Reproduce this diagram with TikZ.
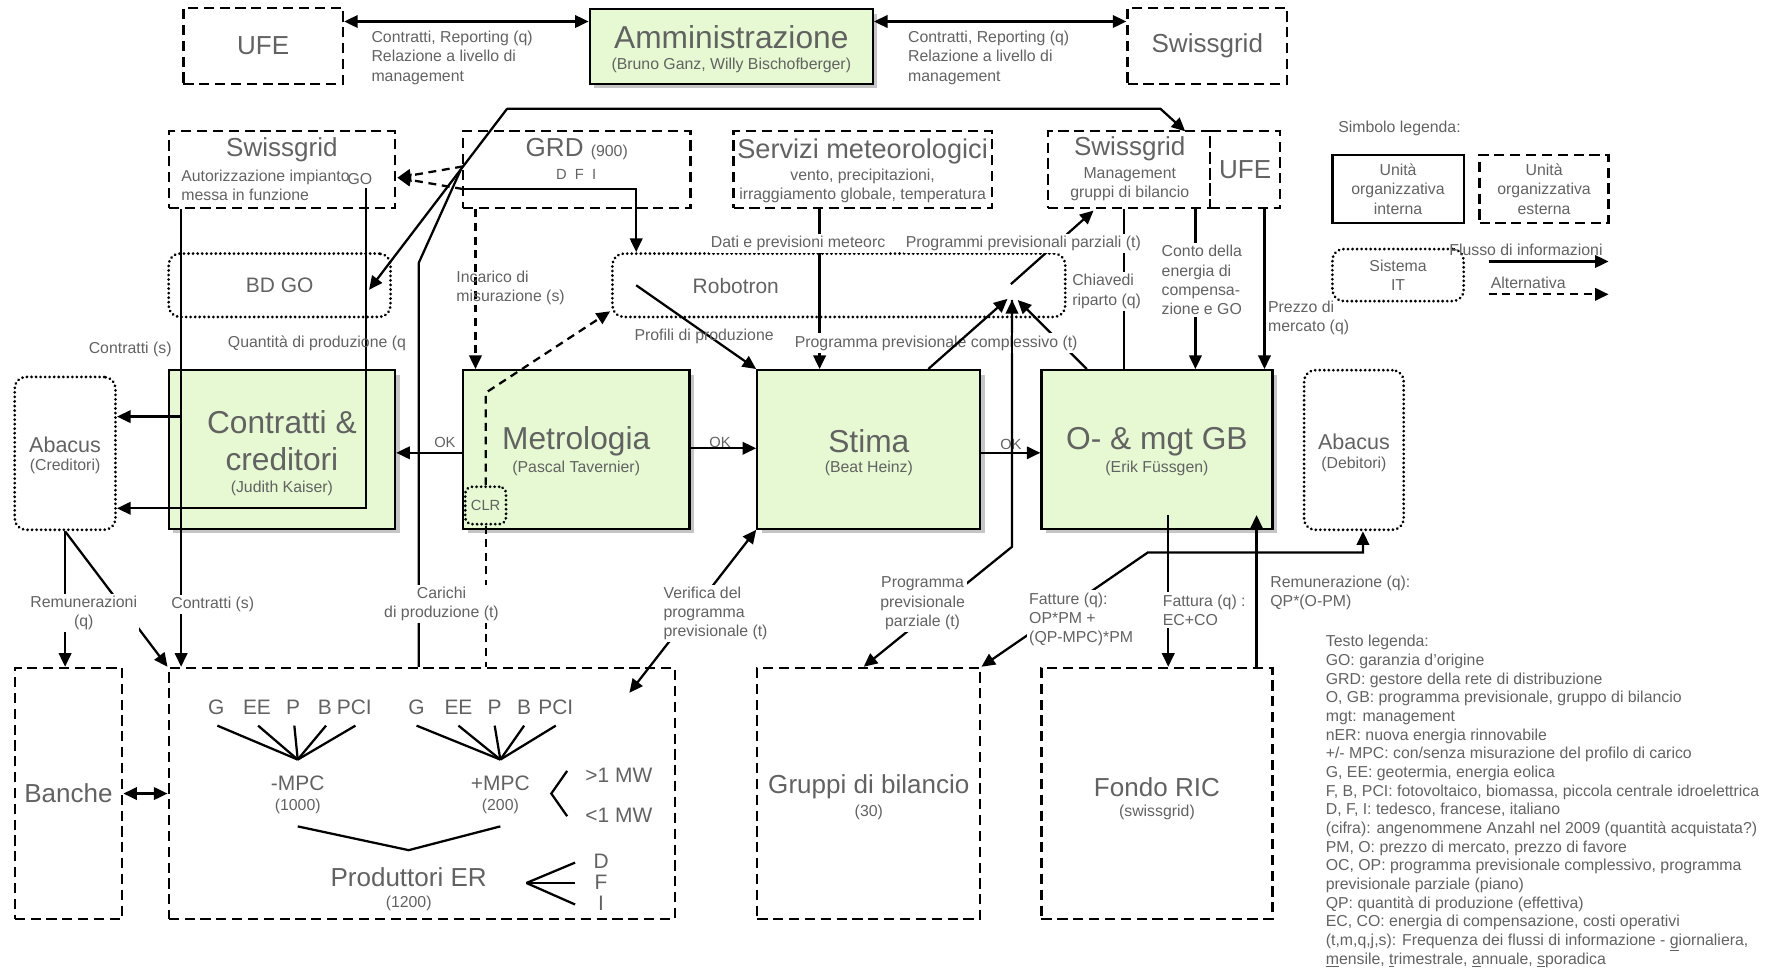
\documentclass[tikz,border=0pt]{standalone}
\usepackage{fontspec}
\setmainfont{Liberation Sans}
\usetikzlibrary{arrows.meta,shadows}

\definecolor{boxgreen}{RGB}{231,249,210}
\definecolor{txtgray}{RGB}{98,98,98}

\newcommand{\titletxt}{\fontsize{28}{33}\selectfont}
\newcommand{\medtxt}{\fontsize{23}{27}\selectfont}
\newcommand{\ittxt}{\fontsize{18.5}{22}\selectfont}
\newcommand{\lbltxt}{\fontsize{14}{17}\selectfont}
\newcommand{\legtxt}{\fontsize{14}{16.5}\selectfont}

\tikzset{
  intbox/.style={draw, line width=2pt, fill=boxgreen, inner sep=0pt,
    drop shadow={fill=black!45, opacity=.5, shadow xshift=4pt, shadow yshift=-4pt}},
  extbox/.style={draw, line width=2pt, dash pattern=on 9pt off 5pt, inner sep=0pt},
  itbox/.style={draw, line width=2.7pt, dash pattern=on 0.01pt off 4pt, line cap=round,
    rounded corners=10pt, inner sep=0pt},
  txt/.style={text=txtgray, inner sep=1pt},
  lbl/.style={txt, font=\lbltxt, align=left},
  cut/.style={lbl, fill=white, inner sep=2pt},
  flow/.style={line width=2pt},
  alt/.style={line width=2pt, dash pattern=on 7pt off 5pt},
}

\begin{document}
\begin{tikzpicture}[x=1pt, y=-1pt, >={Triangle[length=12pt,width=11pt]}]
\useasboundingbox (0,0) rectangle (1568,855);

% top row
\node[extbox, txt, font=\medtxt, minimum width=141pt, minimum height=67pt] (ufeT) at (232.5,40.5) {UFE};
\node[intbox, minimum width=250pt, minimum height=66pt] (amm) at (646,41) {};
\node[txt, font=\titletxt] (ammT) at (646,33) {Amministrazione};
\node[txt, font=\lbltxt] (ammS) at (646,58) {(Bruno Ganz, Willy Bischofberger)};
\node[extbox, txt, font=\medtxt, minimum width=141pt, minimum height=67pt] (sgT) at (1066.5,40.5) {Swissgrid};

% second row
\node[extbox, minimum width=200pt, minimum height=68pt] (sgL) at (249,150) {};
\node[txt, font=\medtxt] (sgLT) at (249,132) {Swissgrid};
\node[lbl, anchor=west] (sgLS) at (159,163.5) {Autorizzazione impianto\\messa in funzione};
\node[lbl] (goT) at (318,158) {GO};
\node[extbox, minimum width=201pt, minimum height=68pt] (grd) at (509.5,150) {};
\node[txt] (grdT) at (509.5,132) {\medtxt GRD \lbltxt(900)};
\node[txt, font=\fontsize{13}{15}\selectfont] (grdS) at (509,154) {D\ \ F\ \ I};
\node[extbox, minimum width=228pt, minimum height=68pt] (meteo) at (762,150) {};
\node[txt, font=\fontsize{24}{28}\selectfont] (meteoT) at (762,134) {Servizi meteorologici};
\node[lbl, align=center] (meteoS) at (762,164) {vento, precipitazioni,\\irraggiamento globale, temperatura};
\node[extbox, minimum width=143pt, minimum height=68pt] (sgM) at (997.5,150) {};
\node[txt, font=\medtxt] (sgMT) at (998,131) {Swissgrid};
\node[lbl, align=center] (sgMS) at (998,162.5) {Management\\gruppi di bilancio};
\node[extbox, txt, font=\medtxt, minimum width=62pt, minimum height=68pt] (ufeM) at (1100,150) {UFE};

% legend symbols
\node[txt, font=\lbltxt, anchor=west] (legH) at (1181,113) {Simbolo legenda:};
\node[draw, line width=2pt, lbl, align=center, minimum width=116pt, minimum height=60pt] (legInt) at (1235,167) {Unità\\organizzativa\\interna};
\node[extbox, lbl, align=center, minimum width=114pt, minimum height=60pt] (legExt) at (1364,167) {Unità\\organizzativa\\esterna};
\node[itbox, lbl, align=center, minimum width=116pt, minimum height=46pt] (legIT) at (1235,243) {Sistema\\IT};
\coordinate (lf1) at (1315,231);
\coordinate (lf2) at (1421,231);
\coordinate (la1) at (1315,260);
\coordinate (la2) at (1421,260);
\draw[flow,->] (lf1) -- (lf2);
\draw[alt,->] (la1) -- (la2);
\node[lbl] (legF) at (1348,221) {Flusso di informazioni};
\node[lbl] (legA) at (1350,250) {Alternativa};

% IT systems
\node[itbox, txt, font=\ittxt, minimum width=196pt, minimum height=56pt] (bdgo) at (247,252) {BD GO};
\node[itbox, minimum width=400pt, minimum height=56pt] (robo) at (741,252) {};
\node[txt, font=\ittxt] (roboT) at (650,253) {Robotron};

% internal units
\node[intbox, minimum width=200pt, minimum height=140pt] (cc) at (249,397) {};
\node[txt, font=\titletxt, align=center] (ccT) at (249,389.5) {Contratti \&\\creditori};
\node[txt, font=\lbltxt] (ccS) at (249,431) {(Judith Kaiser)};
\node[intbox, minimum width=200pt, minimum height=140pt] (metro) at (509,397) {};
\node[txt, font=\titletxt] (metroT) at (509,390) {Metrologia};
\node[txt, font=\lbltxt] (metroS) at (509,414) {(Pascal Tavernier)};
\node[intbox, minimum width=197pt, minimum height=140pt] (stima) at (767.5,397) {};
\node[txt, font=\titletxt] (stimaT) at (767.5,390) {Stima};
\node[txt, font=\lbltxt] (stimaS) at (767.5,414) {(Beat Heinz)};
\node[intbox, minimum width=204pt, minimum height=140pt] (ogb) at (1022,397) {};
\node[txt, font=\titletxt] (ogbT) at (1022,390) {O- \& mgt GB};
\node[txt, font=\lbltxt] (ogbS) at (1022,414) {(Erik Füssgen)};
\node[itbox, minimum width=89pt, minimum height=135pt] (abC) at (57.5,400.5) {};
\node[txt, font=\fontsize{19}{22}\selectfont] (abCT) at (57.5,393) {Abacus};
\node[txt, font=\lbltxt] (abCS) at (57.5,412) {(Creditori)};
\node[itbox, minimum width=88pt, minimum height=141pt] (abD) at (1196,397.5) {};
\node[txt, font=\fontsize{19}{22}\selectfont] (abDT) at (1196,390) {Abacus};
\node[txt, font=\lbltxt] (abDS) at (1196,410) {(Debitori)};
\node[itbox, rounded corners=6pt, txt, font=\fontsize{13}{15}\selectfont, minimum width=36pt, minimum height=33pt] (clr) at (429,446.5) {CLR};

% external units, bottom
\node[extbox, txt, font=\medtxt, minimum width=95pt, minimum height=222pt] (banche) at (60.5,701) {Banche};
\node[extbox, minimum width=447pt, minimum height=222pt] (prod) at (372.5,701) {};
\node[extbox, minimum width=197pt, minimum height=222pt] (gruppi) at (767.5,701) {};
\node[txt, font=\medtxt] (gruppiT) at (767.5,695) {Gruppi di bilancio};
\node[txt, font=\lbltxt] (gruppiS) at (767.5,718) {(30)};
\node[extbox, minimum width=204pt, minimum height=222pt] (fondo) at (1022,701) {};
\node[txt, font=\medtxt] (fondoT) at (1022,695) {Fondo RIC};
\node[txt, font=\lbltxt] (fondoS) at (1022,718) {(swissgrid)};

% producers
\coordinate (apL) at (263,671);
\coordinate (apR) at (442,671);
\foreach \x/\t in {191/G,227/EE,259/P,287/B,313/PCI}{
  \node[txt, font=\ittxt] (srcL\x) at (\x,625) {\t};
  \draw[flow] (\x+1,641) -- (apL);
}
\foreach \x/\t in {368/G,405/EE,437/P,463/B,491/PCI}{
  \node[txt, font=\ittxt] (srcR\x) at (\x,625) {\t};
  \draw[flow] (\x,641) -- (apR);
}
\node[txt, font=\ittxt] (mpcL) at (263,692) {-MPC};
\node[txt, font=\lbltxt] (mpcLn) at (263,712) {(1000)};
\node[txt, font=\ittxt] (mpcR) at (442,692) {+MPC};
\node[txt, font=\lbltxt] (mpcRn) at (442,712) {(200)};
\draw[flow] (501,681) -- (487,701) -- (501,721);
\node[txt, font=\ittxt, anchor=west] (mwA) at (516,685) {>1 MW};
\node[txt, font=\ittxt, anchor=west] (mwB) at (516,720) {<1 MW};
\draw[flow] (263,730) -- (361,751) -- (442,730);
\node[txt, font=\medtxt] (prodT) at (361,775) {Produttori ER};
\node[txt, font=\lbltxt] (prodS) at (361,798) {(1200)};
\coordinate (apD) at (465,780);
\foreach \y/\t in {762/D,780/F,799/I}{
  \draw[flow] (apD) -- (508,\y);
  \node[txt, font=\ittxt] (lang\t) at (531,\y-1) {\t};
}

% connectors, top
\coordinate (r1) at (0,19);
\draw[flow,<->] (ufeT.east |- r1) -- (amm.west |- r1);
\draw[flow,<->] (amm.east |- r1) -- (sgT.west |- r1);
\node[lbl, anchor=west] (lUA) at (327,51) {Contratti, Reporting (q)\\Relazione a livello di\\management};
\node[lbl, anchor=west] (lAS) at (801,51) {Contratti, Reporting (q)\\Relazione a livello di\\management};

\coordinate (k1) at (448,96);
\coordinate (k2) at (1025,96);
\coordinate (k4) at (1047,116);
\coordinate (k5) at (326,256);
\coordinate (kj) at (407,150);
\coordinate (k3) at (370,232);
\draw[flow,->] (k1) -- (k2) -- (k4);
\draw[flow,->] (k1) -- (k5);
\draw[flow] (kj) -- (k3) -- (k3 |- prod.north);

\coordinate (g1) at (409,147);
\coordinate (g2) at (409,167);
\coordinate (goTip) at (351,157);
\coordinate (g3) at (562,167);
\draw[alt,->] (g1) -- (goTip);
\draw[alt,->] (g2) -- (goTip);
\draw[flow,->] (g2) -- (g3) -- (g3 |- robo.north);
\coordinate (xi) at (420,0);
\draw[alt,->] (grd.south -| xi) -- (metro.north -| xi);

\coordinate (c1) at (429,347);
\coordinate (c2) at (539,275);
\draw[alt,->] (clr.north) -- (c1) -- (c2);
\draw[alt] (clr.south) -- (clr.south |- prod.north);

\coordinate (xa) at (160,0);
\coordinate (b1) at (160,368);
\draw[flow,->] (sgL.south -| xa) -- (prod.north -| xa);
\draw[flow,->] (b1) -- (abC.east |- b1);
\coordinate (go1) at (323,166);
\coordinate (go2) at (323,449);
\draw[flow,->] (go1) -- (go2) -- (abC.east |- go2);

% main chain
\coordinate (r4a) at (0,400);
\coordinate (r4b) at (0,396);
\draw[flow,->] (metro.west |- r4a) -- (cc.east |- r4a);
\draw[flow,->] (metro.east |- r4b) -- (stima.west |- r4b);
\draw[flow,->] (stima.east |- r4a) -- (ogb.west |- r4a);
\node[txt, font=\fontsize{13}{15}\selectfont] (ok1) at (393,391) {OK};
\node[txt, font=\fontsize{13}{15}\selectfont] (ok2) at (636,391) {OK};
\node[txt, font=\fontsize{13}{15}\selectfont] (ok3) at (893,393) {OK};

% forecasts
\coordinate (p1) at (562,252);
\draw[flow,->] (p1) -- (stima.north west);
\coordinate (xm) at (724,0);
\draw[flow,->] (meteo.south -| xm) -- (stima.north -| xm);
\coordinate (o1) at (960,0);
\coordinate (jn) at (899,265);
\draw[flow,->] (ogb.north -| o1) -- (jn);
\coordinate (x1) at (993,0);
\draw[flow] (sgM.south -| x1) -- (ogb.north -| x1);
\coordinate (x2) at (1056,0);
\draw[flow,->] (sgM.south -| x2) -- (ogb.north -| x2);
\coordinate (x3) at (1117,0);
\draw[flow,->] (ufeM.south -| x3) -- (ogb.north -| x3);
\coordinate (j4) at (893,251);
\coordinate (j5) at (966,186);
\draw[flow,->] (j4) -- (j5);
\coordinate (jv) at (894,265);
\coordinate (j2) at (894,483);
\coordinate (j3) at (763,0);
\draw[flow,->] (jv) -- (j2) -- (gruppi.north -| j3);

% billing
\coordinate (f1) at (1032,455);
\coordinate (f2) at (1110,455);
\coordinate (f3) at (1014,488);
\coordinate (f4) at (1204,488);
\draw[flow,->] (f1) -- (fondo.north -| f1);
\draw[flow,->] (fondo.north -| f2) -- (f2);
\draw[flow,<->] (gruppi.north east) -- (f3) -- (f4) -- (abD.south -| f4);
\coordinate (v1) at (556,612);
\draw[flow,<->] (v1) -- (stima.south west);
\draw[flow,->] (abC.south) -- (abC.south |- banche.north);
\draw[flow,->] (abC.south) -- (prod.north west);
\draw[flow,<->] (banche.east) -- (prod.west);

% labels
\node[lbl, anchor=west] (lInc) at (402,254.5) {Incarico di\\misurazione (s)};
\node[cut] (lMet) at (705,215) {Dati e previsioni meteorc};
\node[cut] (lPpp) at (904,215) {Programmi previsionali parziali (t)};
\node[cut, anchor=west] (lChi) at (945,257.5) {Chiavedi\\riparto (q)};
\node[cut, anchor=west] (lConto) at (1024,247.5) {Conto della\\energia di\\compensa-\\zione e GO};
\node[lbl, anchor=west] (lPrezzo) at (1119,280.5) {Prezzo di\\mercato (q)};
\node[lbl] (lCtr) at (115,309) {Contratti (s)};
\node[lbl] (lQta) at (280,303) {Quantità di produzione (q};
\node[lbl] (lProf) at (622,297) {Profili di produzione};
\node[cut] (lPpc) at (827,303) {Programma previsionale complessivo (t)};
\node[cut, align=center] (lRem) at (74,541.5) {Remunerazioni\\(q)};
\node[cut] (lCtr2) at (188,534) {Contratti (s)};
\node[cut, align=center] (lCar) at (390,533.5) {Carichi\\di produzione (t)};
\node[cut, anchor=west] (lVer) at (584,542) {Verifica del\\programma\\previsionale (t)};
\node[cut, align=center] (lPpz) at (815,533) {Programma\\previsionale\\parziale (t)};
\node[cut, anchor=west] (lFat) at (907,547) {Fatture (q):\\OP*PM +\\(QP-MPC)*PM};
\node[cut, anchor=west] (lFat2) at (1025,539) {Fattura (q) :\\EC+CO};
\node[lbl, anchor=west] (lRem2) at (1121,523.5) {Remunerazione (q):\\QP*(O-PM)};

% lines over labels
\coordinate (s1) at (820,0);
\coordinate (jm) at (890,264);
\draw[flow,->] (stima.north -| s1) -- (jm);
\draw[flow,->] (j2) -- (jv);

% text legend
\node[txt, font=\legtxt, align=left, anchor=north west] (legTxt) at (1170,560) {Testo legenda:\\
GO: garanzia d'origine\\
GRD: gestore della rete di distribuzione\\
O, GB: programma previsionale, gruppo di bilancio\\
mgt: management\\
nER: nuova energia rinnovabile\\
+/- MPC: con/senza misurazione del profilo di carico\\
G, EE: geotermia, energia eolica\\
F, B, PCI: fotovoltaico, biomassa, piccola centrale idroelettrica\\
D, F, I: tedesco, francese, italiano\\
(cifra): angenommene Anzahl nel 2009 (quantità acquistata?)\\
PM, O: prezzo di mercato, prezzo di favore\\
OC, OP: programma previsionale complessivo, programma\\
previsionale parziale (piano)\\
QP: quantità di produzione (effettiva)\\
EC, CO: energia di compensazione, costi operativi\\
(t,m,q,j,s): Frequenza dei flussi di informazione - \underline{g}iornaliera,\\
\underline{m}ensile, \underline{t}rimestrale, \underline{a}nnuale, \underline{s}poradica};
\end{tikzpicture}
\end{document}
